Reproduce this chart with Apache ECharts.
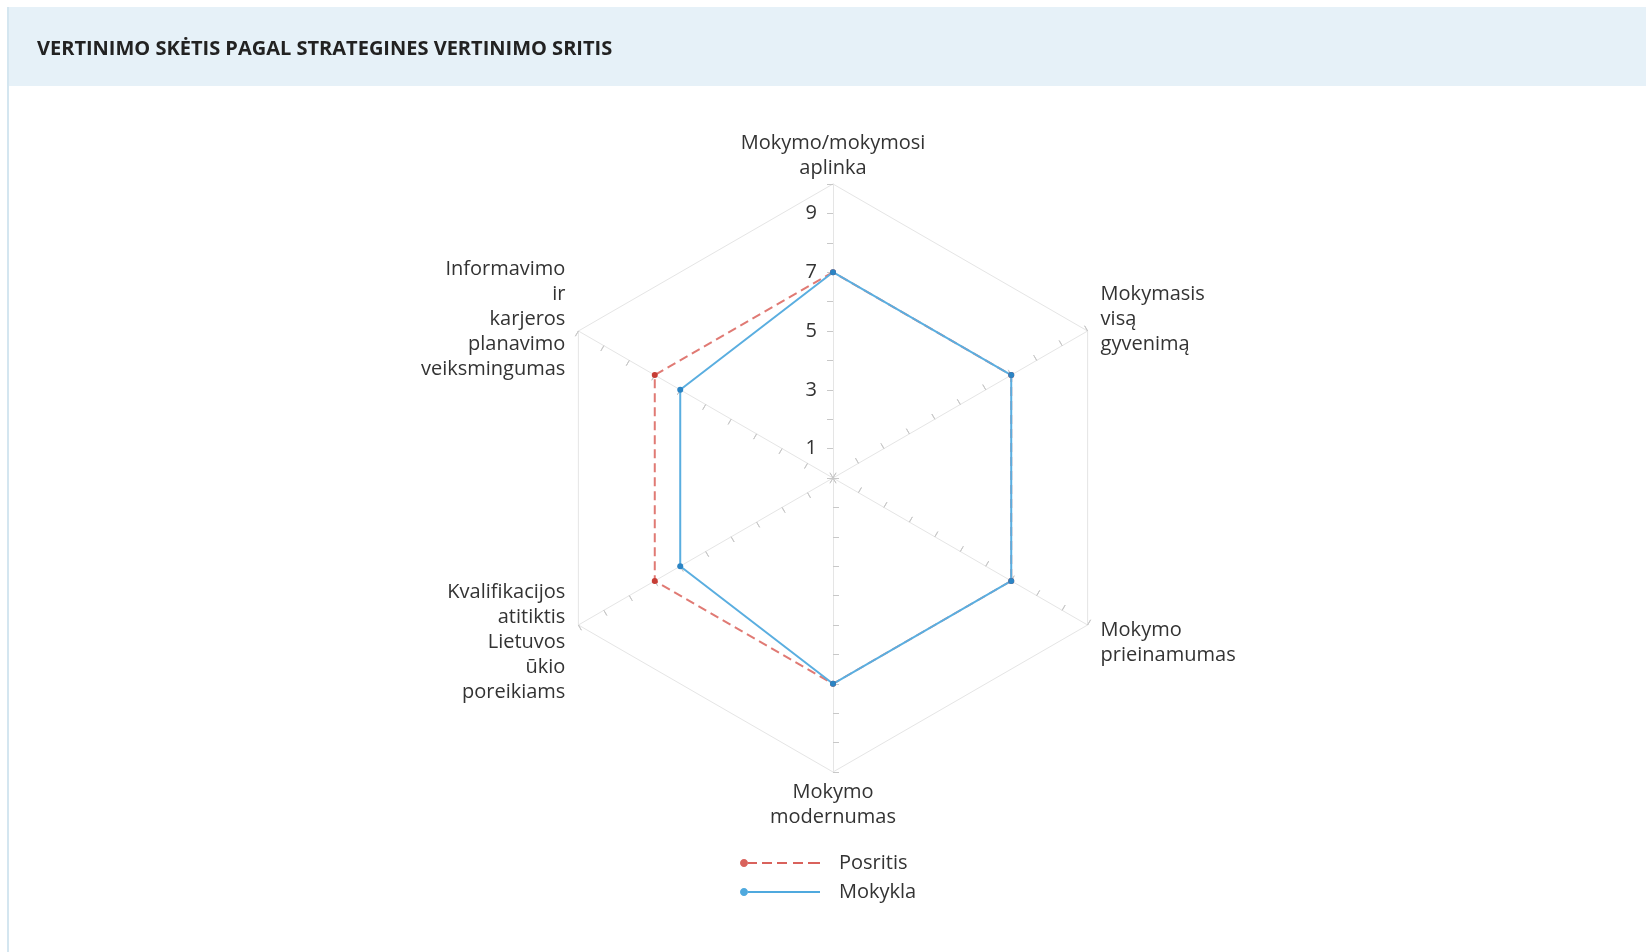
<!DOCTYPE html>
<html>
<head>
<meta charset="utf-8">
<script src="https://cdn.jsdelivr.net/npm/echarts@6/dist/echarts.min.js"></script>
<style>
  html, body { margin: 0; padding: 0; background: #fff; }
  #chart { width: 1646px; height: 952px; }
</style>
</head>
<body>
<div id="chart"></div>
<script>
// indicator order is counter-clockwise from the top (echarts default)
const areas = [
  "Mokymo/mokymosi\naplinka",
  "Informavimo\nir\nkarjeros\nplanavimo\nveiksmingumas",
  "Kvalifikacijos\natitiktis\nLietuvos\nūkio\nporeikiams",
  "Mokymo\nmodernumas",
  "Mokymo\nprieinamumas",
  "Mokymasis\nvisą\ngyvenimą"
];
const posritis = [7, 7, 7, 7, 7, 7];
const mokykla = [7, 6, 6, 7, 7, 7];
const seriesNames = ["Posritis", "Mokykla"];
const axisMax = 10;

const FONT = "'Open Sans', 'Noto Sans', sans-serif";
const chart = echarts.init(document.getElementById("chart"));

const ringColors = [];
for (let i = 0; i < axisMax; i++) ringColors.push("rgba(0,0,0,0)");
ringColors.push("#e5e5e5");

// name gaps per axis (top label sits closer, bottom a bit closer)
const nameGaps = [3, 15, 15, 8, 15, 15];

const indicators = areas.map((a, i) => {
  const ind = { name: a, min: 0, max: axisMax, nameGap: nameGaps[i] };
  if (i === 0) ind.axisLabel = { show: true };
  return ind;
});

// legend icons: dot at the left end + dashed / solid line
const dot = "M0,4C0,1.8,1.8,0,4,0C6.2,0,8,1.8,8,4C8,6.2,6.2,8,4,8C1.8,8,0,6.2,0,4Z";
const dashIcon = "path://" + dot + "M8,3L17,3L17,5L8,5ZM22,3L32,3L32,5L22,5ZM37,3L47,3L47,5L37,5ZM53,3L63,3L63,5L53,5ZM68,3L80,3L80,5L68,5Z";
const lineIcon = "path://" + dot + "M8,3L80,3L80,5L8,5Z";

const option = {
  backgroundColor: "#fff",
  textStyle: { fontFamily: FONT },
  graphic: [
    { type: "rect", z: 0, shape: { x: 7, y: 7, width: 1646, height: 79 }, style: { fill: "#e6f1f8" } },
    { type: "rect", z: 0, shape: { x: 7, y: 7, width: 2, height: 945 }, style: { fill: "#d4e6f0" } }
  ],
  title: {
    text: "VERTINIMO SKĖTIS PAGAL STRATEGINES VERTINIMO SRITIS",
    left: 37,
    top: 39,
    padding: 0,
    textStyle: { fontFamily: FONT, fontSize: 20, fontWeight: "bold", color: "#222" }
  },
  legend: {
    orient: "vertical",
    left: 740,
    top: 853,
    padding: 0,
    itemWidth: 80,
    itemHeight: 8,
    itemGap: 9,
    itemStyle: { borderWidth: 0 },
    textStyle: { fontFamily: FONT, fontSize: 20, color: "#333", lineHeight: 20, padding: [0, 0, 0, 14] },
    data: [
      { name: seriesNames[0], icon: dashIcon, itemStyle: { color: "#d9625c" } },
      { name: seriesNames[1], icon: lineIcon, itemStyle: { color: "#4fa9de" } }
    ]
  },
  radar: [
    {
      center: [833, 478],
      radius: 294,
      splitNumber: axisMax,
      indicator: indicators,
      axisName: {
        color: "#333",
        fontSize: 20,
        lineHeight: 25,
        fontFamily: FONT,
        formatter: (name, ind) => {
          const i = areas.indexOf(ind.name);
          if (i === 1 || i === 5) return name + "\n{up| }";
          if (i === 2 || i === 4) return "{down| }\n" + name;
          return name;
        },
        rich: {
          up: { lineHeight: 8, fontSize: 6 },
          down: { lineHeight: 20, fontSize: 6 }
        }
      },
      nameGap: 15,
      axisLine: { show: true, lineStyle: { color: "#e5e5e5", width: 1 } },
      axisTick: { show: true, length: 6, lineStyle: { color: "#c8c8c8", width: 1 } },
      axisLabel: {
        show: false,
        margin: 16,
        fontSize: 20,
        color: "#333",
        fontFamily: FONT,
        formatter: v => (v % 2 === 1 ? String(v) : "")
      },
      splitLine: { show: true, lineStyle: { color: ringColors, width: 1 } },
      splitArea: { show: false }
    },
    {
      center: [833, 478],
      radius: 294,
      splitNumber: axisMax,
      indicator: areas.map(a => ({ name: a, min: 0, max: axisMax })),
      axisName: { show: false },
      axisLine: { show: false },
      axisTick: { show: true, inside: true, length: 6, lineStyle: { color: "#c8c8c8", width: 1 } },
      axisLabel: { show: false },
      splitLine: { show: false },
      splitArea: { show: false }
    }
  ],
  series: [
    {
      name: seriesNames[0],
      type: "radar",
      radarIndex: 0,
      symbol: "circle",
      symbolSize: 6,
      itemStyle: { color: "#c63d35" },
      lineStyle: { color: "#e07a74", width: 2, type: [9, 5] },
      data: [{ name: seriesNames[0], value: posritis }]
    },
    {
      name: seriesNames[1],
      type: "radar",
      radarIndex: 0,
      symbol: "circle",
      symbolSize: 6,
      itemStyle: { color: "#2b84c4" },
      lineStyle: { color: "#5aaee0", width: 2 },
      data: [{ name: seriesNames[1], value: mokykla }]
    }
  ]
};

chart.setOption(option);
</script>
</body>
</html>
